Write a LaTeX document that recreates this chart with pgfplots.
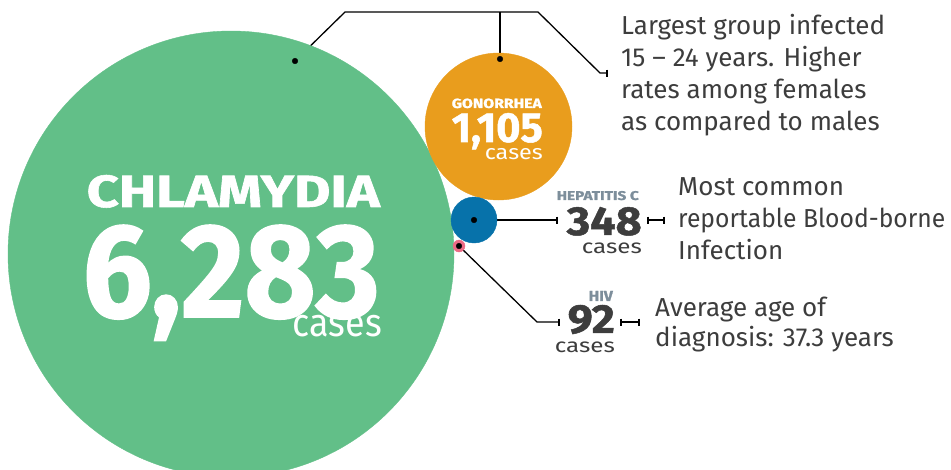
\documentclass[border=0pt]{standalone}
\usepackage{pgfplots}
\pgfplotsset{compat=1.18}
\usetikzlibrary{calc}
\usepackage{fontspec}
\setmainfont{Fira Sans}[BoldFeatures={FakeBold=1.2}]
\definecolor{chlam}{HTML}{62BF88}
\definecolor{gono}{HTML}{E99D1D}
\definecolor{hepc}{HTML}{0772AA}
\definecolor{hiv}{HTML}{EC6A85}
\definecolor{txt}{HTML}{3D3D3D}
\definecolor{lbl}{HTML}{7D8E9B}
\newcommand{\fs}[1]{\fontsize{#1}{#1}\selectfont}
% text fitted to a measured width and cap/x height
\newcommand{\fit}[3]{\resizebox{#1pt}{#2pt}{#3}}
% lowercase boxes come out taller than asked, so ask for less
\newcommand{\fitx}[3]{\resizebox{#1pt}{\dimexpr#2pt*17/20\relax}{#3}}

\begin{document}
\begin{tikzpicture}
\useasboundingbox (0,0) rectangle (951pt,469pt);
\begin{axis}[
  at={(0,0)}, anchor=south west,
  scale only axis, width=951pt, height=469pt,
  xmin=0, xmax=951, ymin=0, ymax=469,
  y dir=reverse,
  hide axis,
  clip=false,
]
% bubbles: centre x, centre y (pixels from top), radius
\addplot[only marks, mark=*, mark size=223pt, color=chlam] coordinates {(231,254)};
\addplot[only marks, mark=*, mark size=73.5pt, color=gono] coordinates {(498.5,126.5)};
\addplot[only marks, mark=*, mark size=23pt, color=hepc] coordinates {(474,220)};
\addplot[only marks, mark=*, mark size=6pt, color=hiv] coordinates {(459,246)};

% leader lines
\draw[black, line width=1.3pt, line join=round] (axis cs:295,61) -- (axis cs:345,12) -- (axis cs:538,12) -- (axis cs:600,73) -- (axis cs:607,73);
\draw[black, line width=1.3pt] (axis cs:607,69.5) -- (axis cs:607,76.5);
\draw[black, line width=1.3pt] (axis cs:500,12) -- (axis cs:500,59);
\draw[black, line width=1.3pt] (axis cs:474,220) -- (axis cs:557,220);
\draw[black, line width=1.3pt] (axis cs:557,216.5) -- (axis cs:557,223.5);
\draw[black, line width=1.3pt] (axis cs:648,220) -- (axis cs:664,220);
\draw[black, line width=1.3pt] (axis cs:648,216.5) -- (axis cs:648,223.5);
\draw[black, line width=1.3pt] (axis cs:664,216.5) -- (axis cs:664,223.5);
\draw[black, line width=1.3pt, line join=round] (axis cs:459,246) -- (axis cs:537,322) -- (axis cs:559,322);
\draw[black, line width=1.3pt] (axis cs:559,318.5) -- (axis cs:559,325.5);
\draw[black, line width=1.3pt] (axis cs:621,322) -- (axis cs:639,322);
\draw[black, line width=1.3pt] (axis cs:621,318.5) -- (axis cs:621,325.5);
\draw[black, line width=1.3pt] (axis cs:639,318.5) -- (axis cs:639,325.5);

% dots at line ends
\addplot[only marks, mark=*, mark size=2.8pt, black] coordinates {(295,61) (500,59) (474,220) (459,246)};

% anchors for labels (drawn after the axis, above the bubbles)
\coordinate (chA) at (axis cs:380,207);
\coordinate (chB) at (axis cs:380,317);
\coordinate (chC) at (axis cs:382,337);
\coordinate (goA) at (axis cs:542,108);
\coordinate (goB) at (axis cs:543,142);
\coordinate (goC) at (axis cs:543,160);
\coordinate (heA) at (axis cs:639,200);
\coordinate (heB) at (axis cs:642,235);
\coordinate (heC) at (axis cs:642,254);
\coordinate (hiA) at (axis cs:613,301);
\coordinate (hiB) at (axis cs:615,333);
\coordinate (hiC) at (axis cs:615,352);
\coordinate (n1) at (axis cs:621,35);
\coordinate (n2) at (axis cs:678,196);
\coordinate (n3) at (axis cs:655,317);
\end{axis}

\begin{scope}[every node/.style={inner sep=0pt, anchor=base east}]
\node[text=white] at (chA) {\fit{293}{32}{\bfseries CHLAMYDIA}};
\node[text=white] at (chB) {\fit{297}{92}{\bfseries 6,283}};
\node[text=white] at (chC) {\fitx{89}{25}{cases}};

\node[text=white] at (goA) {\fit{90}{9.5}{\bfseries GONORRHEA}};
\node[text=white] at (goB) {\fit{91}{29}{\bfseries 1,105}};
\node[text=white] at (goC) {\fitx{58}{13}{cases}};

\node[text=lbl] at (heA) {\fit{82}{9}{\bfseries HEPATITIS C}};
\node[text=txt] at (heB) {\fit{75}{28}{\bfseries 348}};
\node[text=txt] at (heC) {\fitx{60}{12.5}{cases}};

\node[text=lbl] at (hiA) {\fit{24}{10}{\bfseries HIV}};
\node[text=txt] at (hiB) {\fit{47}{28}{\bfseries 92}};
\node[text=txt] at (hiC) {\fitx{60}{12.5}{cases}};
\end{scope}

\begin{scope}[every node/.style={inner sep=0pt, anchor=base west, text=txt}, font=\fs{26}]
\node at (n1) {Largest group infected};
\node at ($(n1)+(0,-32pt)$) {15 – 24 years. Higher};
\node at ($(n1)+(0,-64pt)$) {rates among females};
\node at ($(n1)+(0,-96pt)$) {as compared to males};

\node at (n2) {Most common};
\node at ($(n2)+(0,-32pt)$) {\scalebox{0.95}[1]{reportable Blood-borne}};
\node at ($(n2)+(0,-64pt)$) {Infection};

\node at (n3) {Average age of};
\node at ($(n3)+(0,-30pt)$) {diagnosis: 37.3 years};
\end{scope}
\end{tikzpicture}
\end{document}
